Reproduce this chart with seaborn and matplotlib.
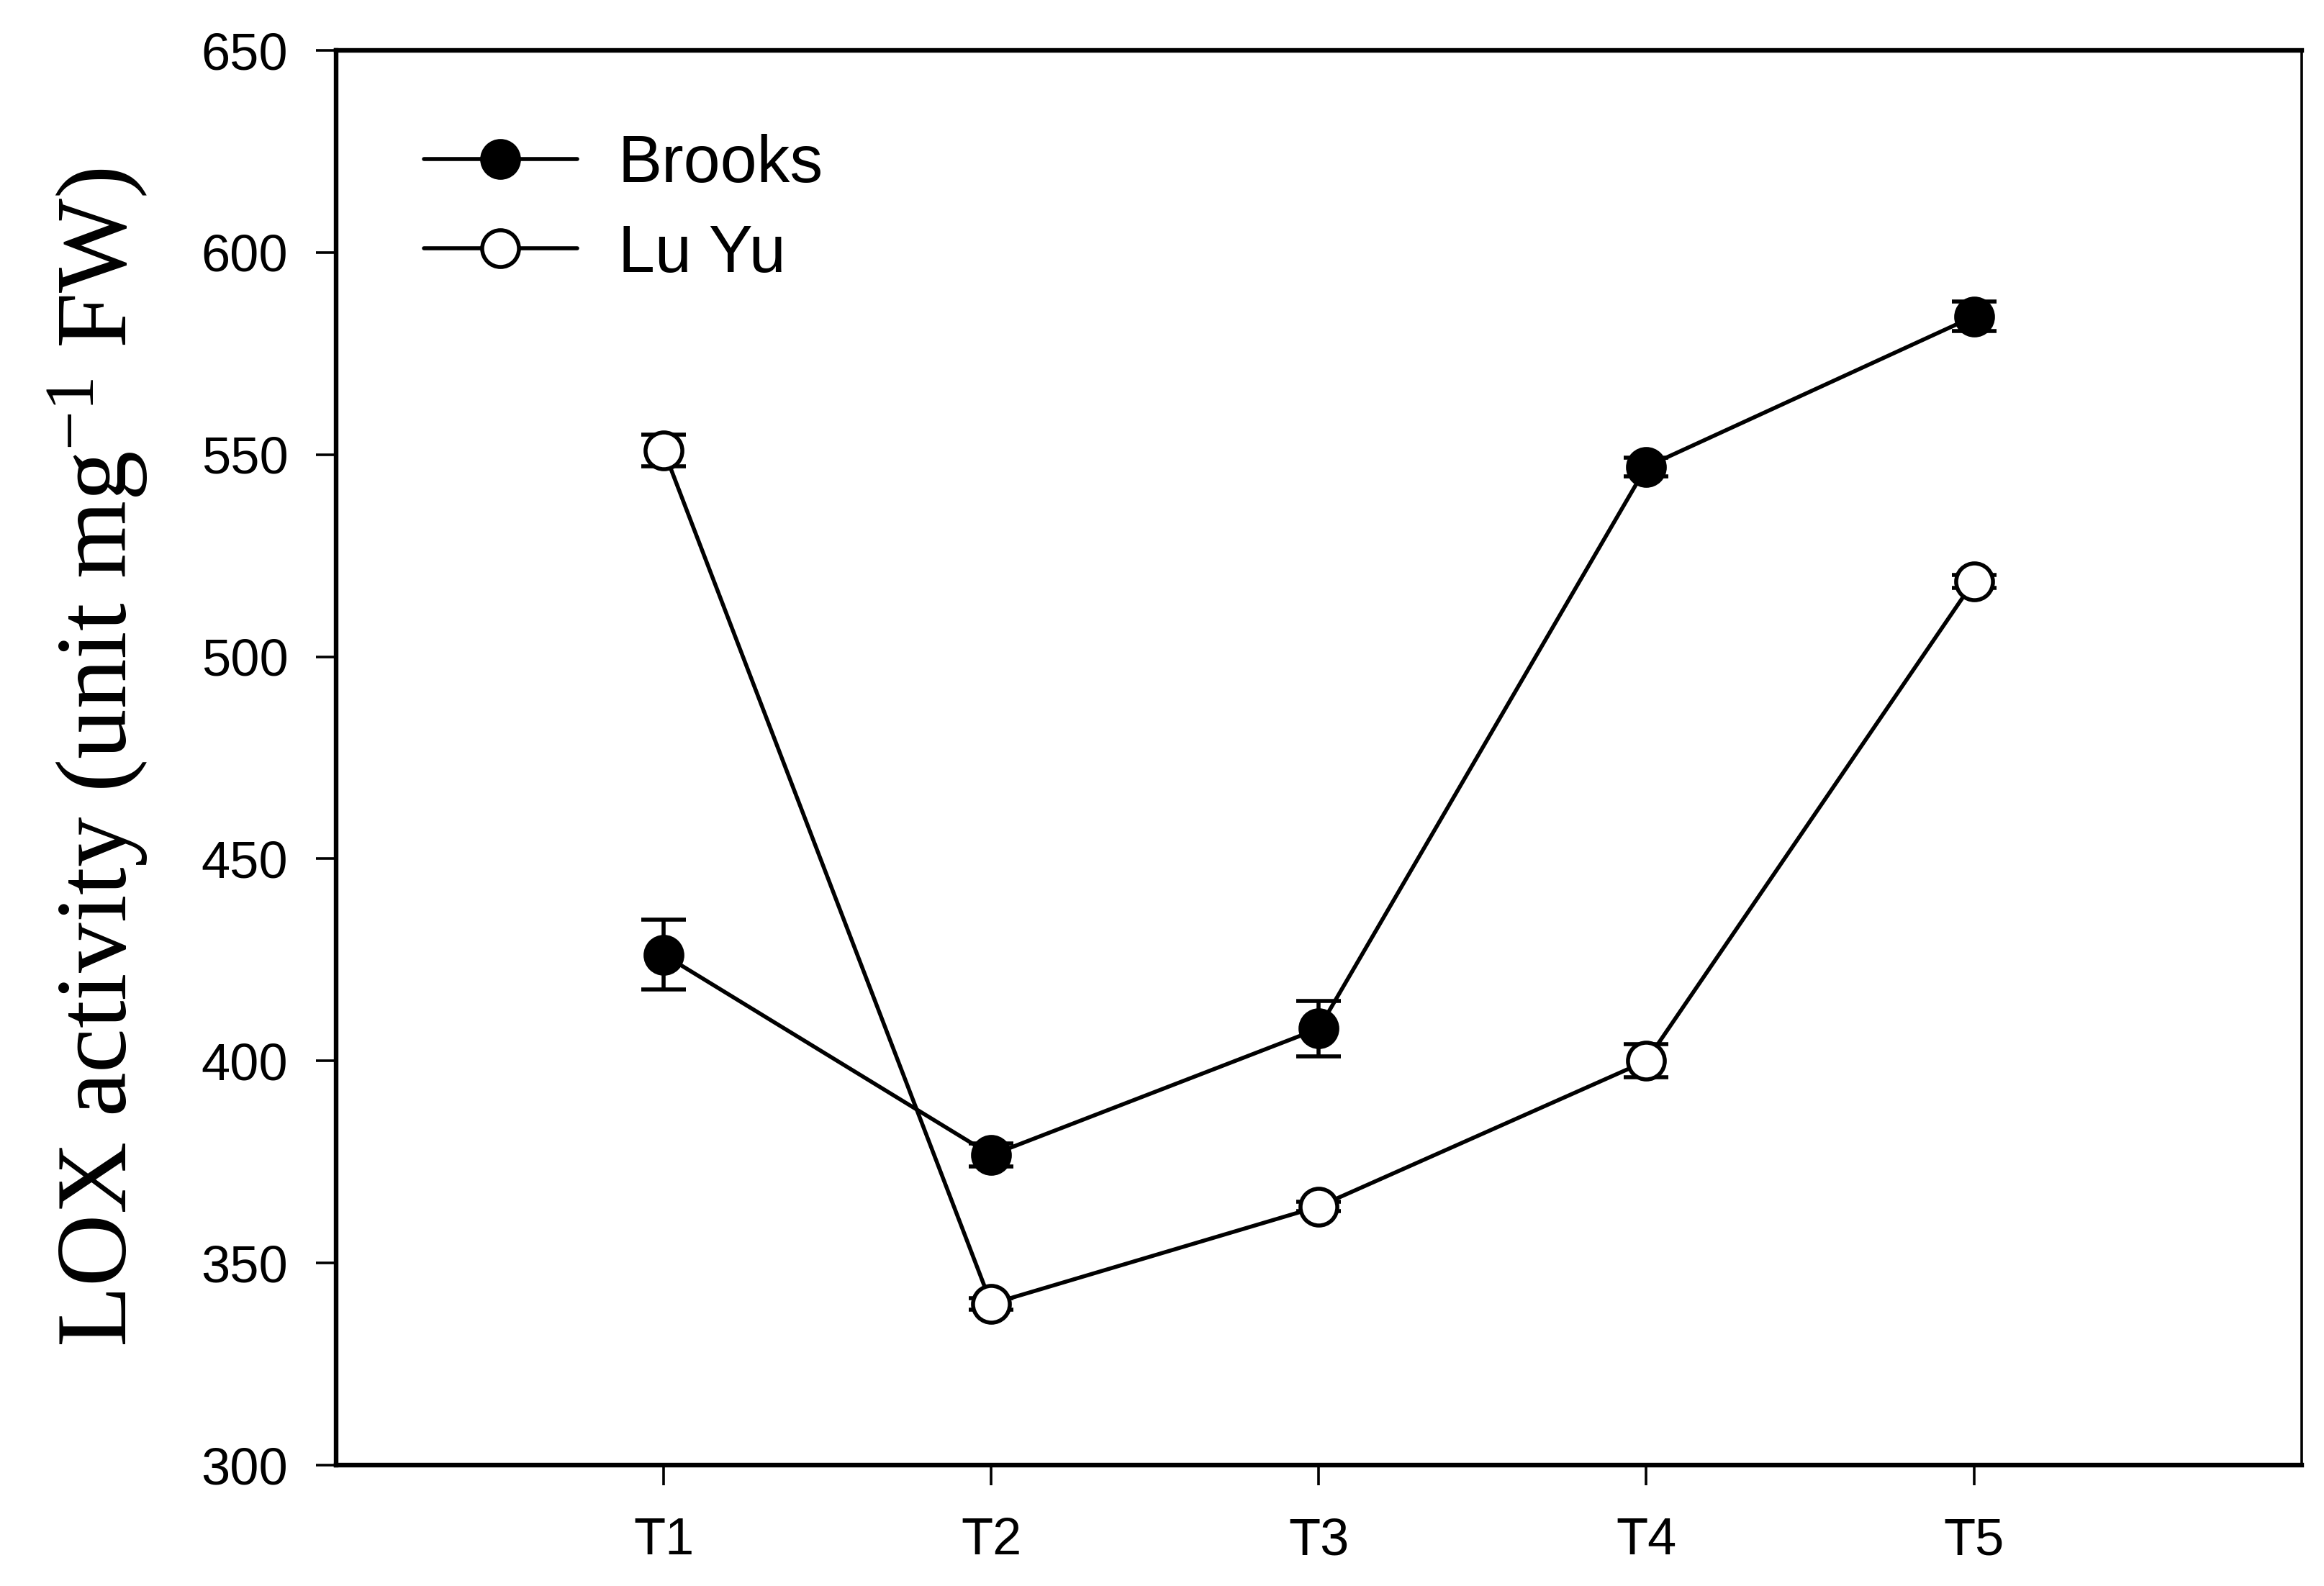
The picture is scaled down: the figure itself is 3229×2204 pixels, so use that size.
import numpy as np
import pandas as pd
import matplotlib
matplotlib.use("Agg")
import matplotlib.pyplot as plt
import seaborn as sns

# values
stages = ["T1", "T2", "T3", "T4", "T5"]
brooks_mean = [426.3, 376.7, 408.0, 547.0, 584.2]
brooks_err = [8.7, 2.8, 6.9, 2.3, 3.7]
luyu_mean = [551.1, 339.9, 364.0, 400.0, 518.7]
luyu_err = [3.9, 1.5, 1.2, 4.1, 1.6]

sns.set_style("ticks")
plt.rcParams["font.family"] = ["Liberation Sans", "DejaVu Sans"]
plt.rcParams["mathtext.fontset"] = "custom"
plt.rcParams["mathtext.rm"] = "Liberation Serif"
plt.rcParams["mathtext.it"] = "Liberation Serif:italic"
plt.rcParams["text.color"] = "black"
plt.rcParams["axes.labelcolor"] = "black"

df = pd.DataFrame({
    "pos": np.arange(1, len(stages) + 1),
    "stage": stages,
    "Brooks": brooks_mean,
    "Brooks_err": brooks_err,
    "Lu Yu": luyu_mean,
    "Lu Yu_err": luyu_err,
})

fig = plt.figure(figsize=(16.15, 11.02), dpi=200)
ax = fig.add_axes([0.1446, 0.0762, 0.990 - 0.1446, 0.9682 - 0.0762])

lw = 2.0
for name, face in [("Brooks", "black"), ("Lu Yu", "white")]:
    ax.errorbar(df["pos"], df[name], yerr=df[name + "_err"], fmt="none",
                ecolor="black", elinewidth=2.0, capsize=11, capthick=2.0,
                zorder=2)
    sns.lineplot(data=df, x="pos", y=name, ax=ax, color="black",
                 linewidth=lw, marker="o", markersize=18.4,
                 markerfacecolor=face, markeredgecolor="black",
                 markeredgewidth=2.0, label=name, errorbar=None, zorder=3)

ax.set_xlim(0, 6)
ax.set_ylim(300, 650)
ax.set_xticks(df["pos"])
ax.set_xticklabels(stages)
ax.set_yticks(np.arange(300, 651, 50))
ax.set_xlabel("")
ax.set_ylabel("LOX activity (unit mg$^{-1}$ FW)", fontsize=50,
              family="Liberation Serif", color="black")
ax.yaxis.set_label_coords(-0.095, 0.5)

ax.tick_params(axis="both", direction="out", length=10, width=1.3,
               colors="black", labelsize=26)
ax.tick_params(axis="y", pad=14)
ax.tick_params(axis="x", pad=16)

for side in ["left", "top", "bottom"]:
    ax.spines[side].set_linewidth(2.3)
ax.spines["right"].set_linewidth(1.3)
for sp in ax.spines.values():
    sp.set_visible(True)
    sp.set_color("black")

ax.legend(loc="upper left", bbox_to_anchor=(0.0447, 0.941), frameon=False,
          fontsize=33, handlelength=2.32, handletextpad=0.62,
          labelspacing=0.42, borderpad=0, borderaxespad=0, numpoints=1)

fig.savefig("out.png", dpi=200, facecolor="white")
